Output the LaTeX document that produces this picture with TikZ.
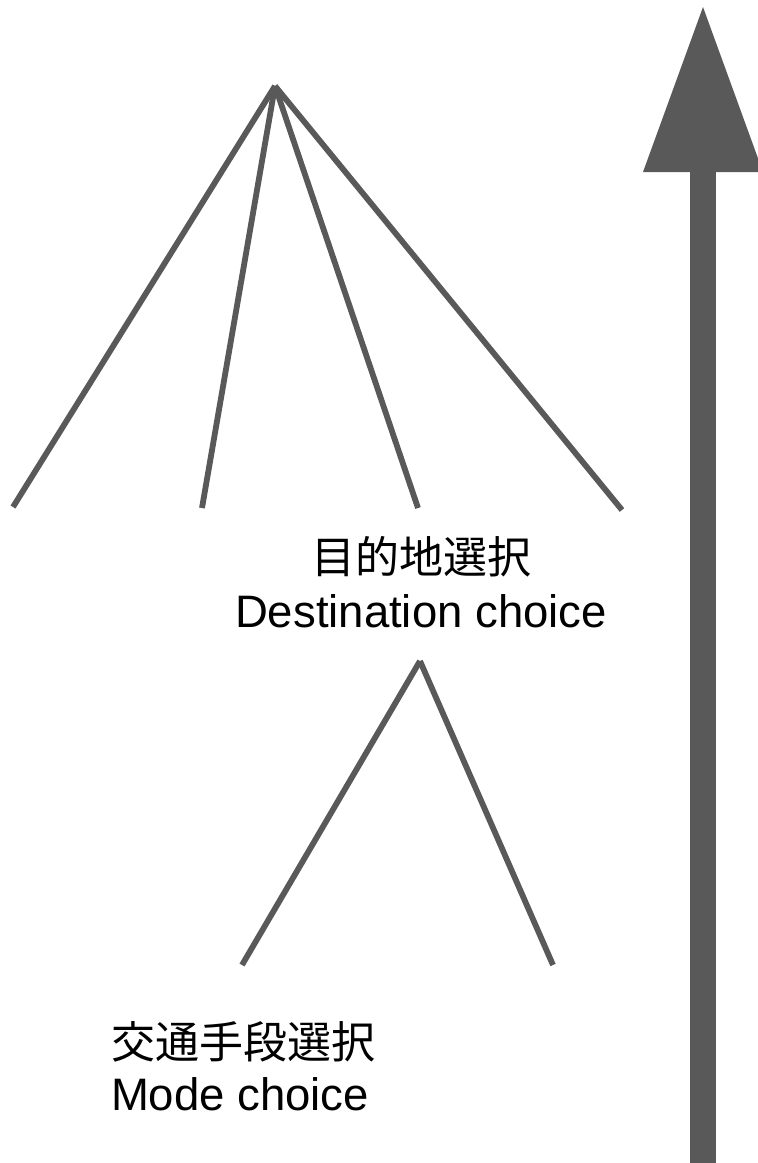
\documentclass[tikz,border=0pt]{standalone}
\usepackage{fontspec}
\setmainfont{Liberation Sans}
\newfontfamily\cjk{Noto Sans CJK JP}
\definecolor{linegray}{HTML}{595959}
\begin{document}
\begin{tikzpicture}[x=1pt,y=-1pt,
  branch/.style={draw=linegray,line width=5.8pt},
  label/.style={inner sep=0pt,anchor=base,font=\fontsize{45.5}{50}\selectfont},
  cjklabel/.style={inner sep=0pt,anchor=base,font=\fontsize{44}{50}\selectfont\cjk}]
\useasboundingbox (0,0) rectangle (758,1163);
% upper tree
\coordinate (top) at (275,86);
\coordinate (t1) at (13,507);
\coordinate (t2) at (202,508);
\coordinate (t3) at (418,508);
\coordinate (t4) at (622,510);
\draw[branch] (top) -- (t1);
\draw[branch] (top) -- (t2);
\draw[branch] (top) -- (t3);
\draw[branch] (top) -- (t4);
% lower tree
\coordinate (mid) at (420,661);
\coordinate (m1) at (242,965);
\coordinate (m2) at (553,965);
\draw[branch] (mid) -- (m1);
\draw[branch] (mid) -- (m2);
% labels
\node[cjklabel] (destj) at (421,573) {目的地選択};
\node[label] (deste) at (421,627) {Destination choice};
\node[cjklabel] (modej) at (243,1058) {交通手段選択};
\node[label] (modee) at (240,1110) {Mode choice};
% big arrow
\coordinate (abase) at (703,1163);
\coordinate (aneck) at (703,172);
\coordinate (atip) at (703,7);
\fill[linegray] ([xshift=-13pt]abase) rectangle ([xshift=13pt]aneck);
\fill[linegray] ([xshift=-60pt]aneck) -- (atip) -- ([xshift=60pt]aneck) -- cycle;
\end{tikzpicture}
\end{document}
